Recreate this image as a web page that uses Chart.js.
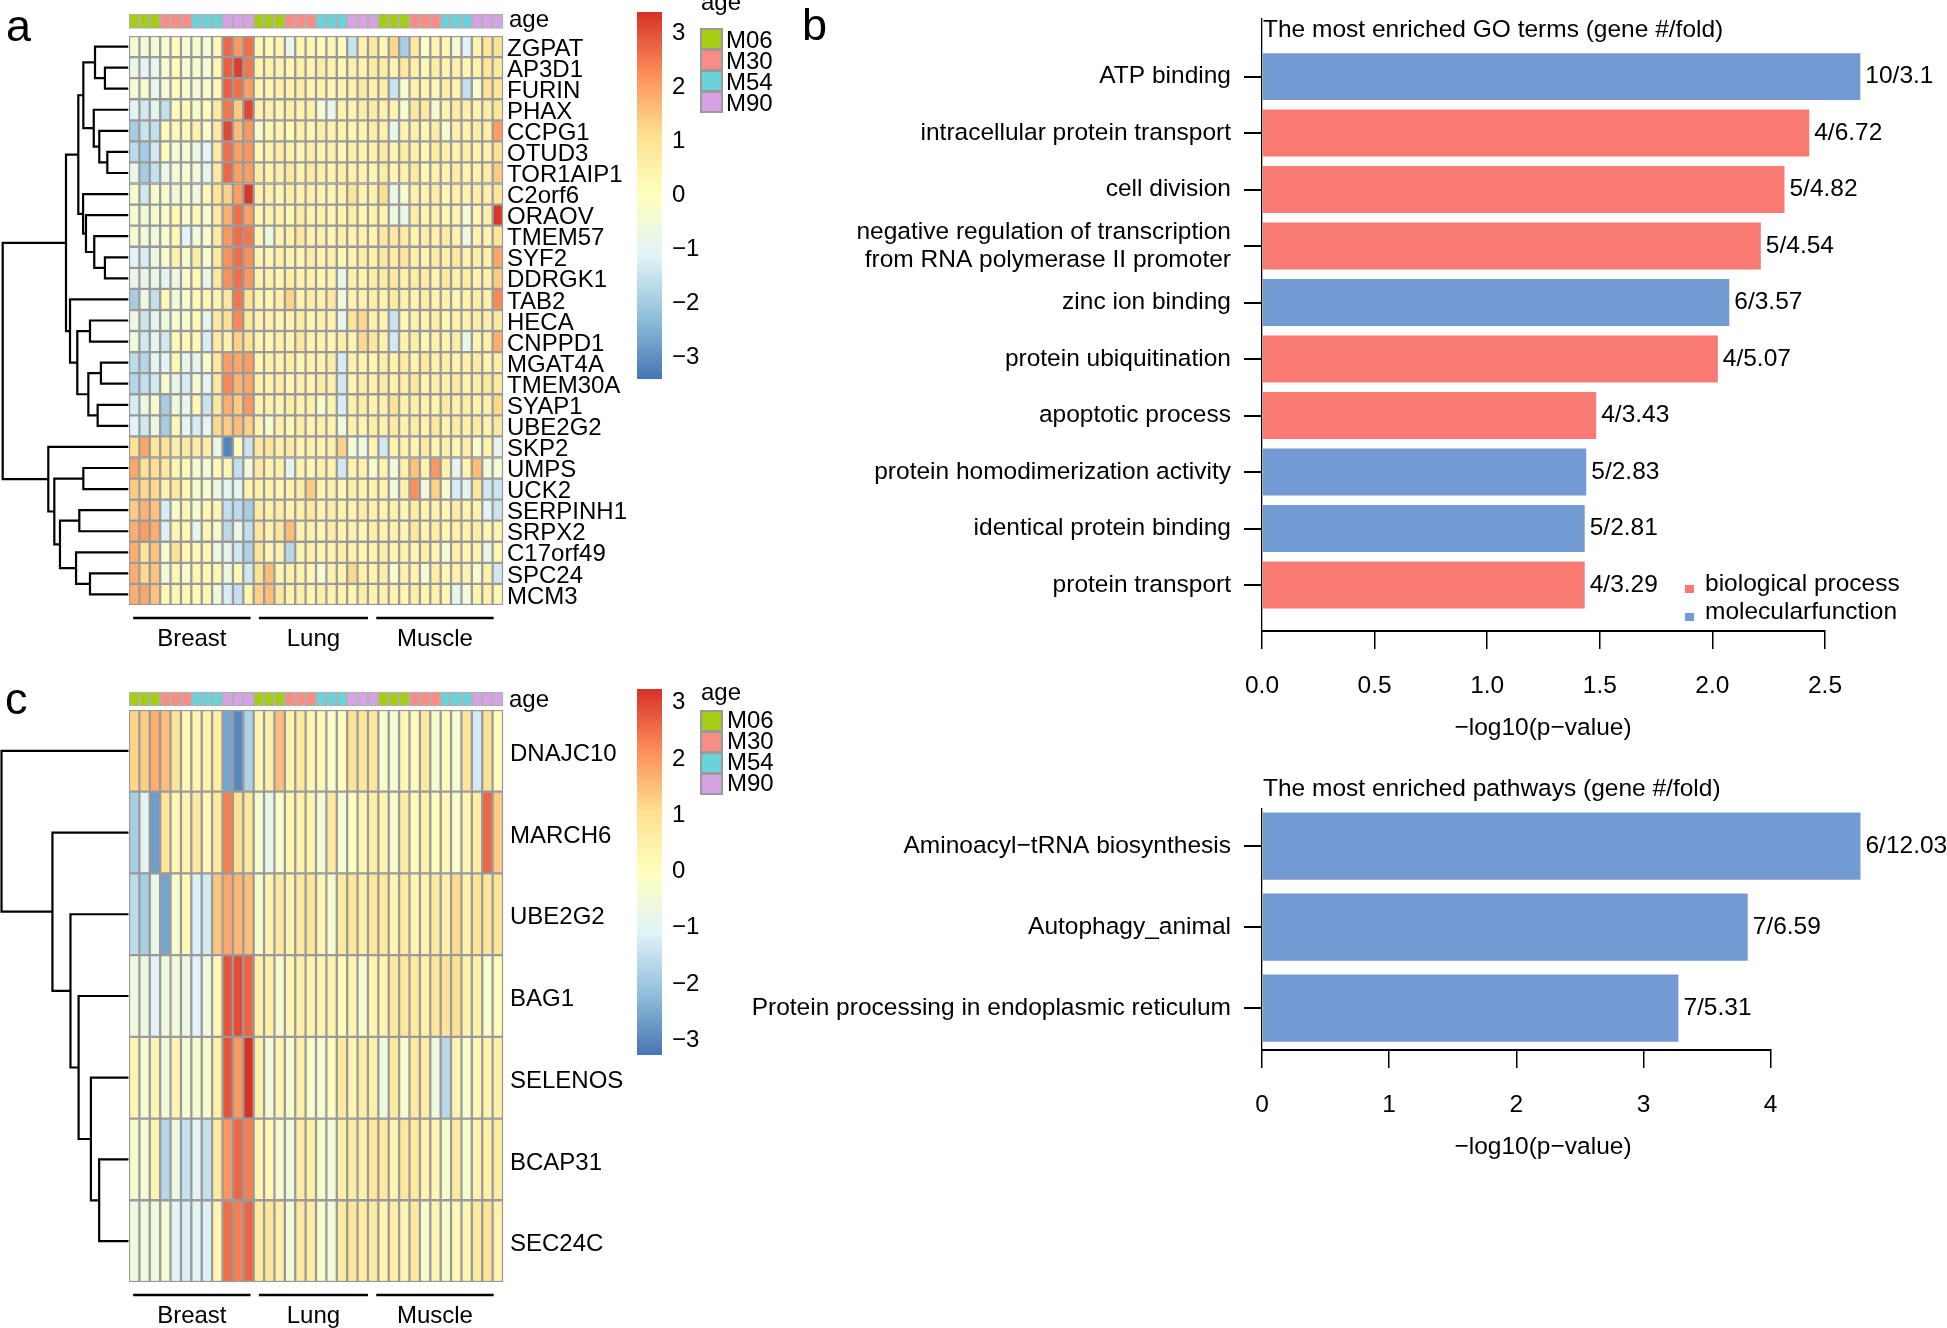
<!DOCTYPE html>
<html>
<head>
<meta charset="utf-8">
<title>Heatmaps and enrichment</title>
<script src="https://cdn.jsdelivr.net/npm/chart.js@4.4.1/dist/chart.umd.min.js"></script>
<style>
html,body{margin:0;padding:0;background:#fff;}
#page{position:relative;width:1947px;height:1328px;overflow:hidden;background:#fff;font-family:"Liberation Sans",Arial,Helvetica,sans-serif;color:#000;}
#page canvas{position:absolute;}
.txt{position:absolute;white-space:nowrap;line-height:1;}
.swatch{position:absolute;box-sizing:border-box;border:2px solid #9a9a9a;}
</style>
</head>
<body>
<div id="page"></div>
<script>
// ---------------- DATA ----------------
const tissues = ['Breast', 'Lung', 'Muscle'];
const ages = ['M06', 'M30', 'M54', 'M90'];
const replicatesPerAge = 3;
const ageColors = ['#A4CD14', '#F98D85', '#6CD2DA', '#D6A2E4'];

const genesA = ['ZGPAT','AP3D1','FURIN','PHAX','CCPG1','OTUD3','TOR1AIP1','C2orf6','ORAOV','TMEM57','SYF2','DDRGK1','TAB2','HECA','CNPPD1','MGAT4A','TMEM30A','SYAP1','UBE2G2','SKP2','UMPS','UCK2','SERPINH1','SRPX2','C17orf49','SPC24','MCM3'];
const heatA = [
 [-0.4,-0.5,-0.4,-0.4,0.1,-0.4,-0.3,-0.4,0.2,2.7,2.1,2.6, 0.3,0.2,0.3,-0.8,0.3,0.3,0.2,0.3,0.1,-1.5,0.5,0.8, 0.3,1.2,-2.0,0.8,-0.2,0.4,0.3,-0.4,-1.2,0.4,0.9,1.0],
 [-0.8,-1.1,-0.9,-0.4,0.1,-0.4,-0.3,-0.4,0.3,2.8,3.2,2.5, 0.4,0.5,0.4,0.3,0.5,0.4,0.6,0.4,0.3,0.5,0.4,0.7, 0.6,0.4,0.8,0.5,0.3,0.6,0.4,0.5,0.3,0.5,0.9,0.8],
 [-0.4,-0.3,-0.9,-0.5,0.1,-0.3,-0.4,-0.3,0.2,2.8,2.6,2.0, 0.4,0.3,0.5,0.4,0.6,0.4,0.5,0.3,0.4,0.5,0.7,0.4, 0.6,-1.5,-0.3,0.5,0.4,0.3,0.6,0.4,-1.6,-0.3,1.0,0.9],
 [-1.0,-1.4,-1.0,-1.6,0.1,0.2,-0.3,0.1,0.7,2.5,1.4,3.1, 0.4,0.5,0.3,0.6,0.4,0.5,-0.4,-0.8,0.5,0.4,0.6,0.7, 0.5,0.4,-0.3,0.8,0.8,-0.3,0.4,0.6,0.5,0.4,0.6,0.9],
 [-2.0,-1.5,-1.6,0.1,0.2,0.2,0.5,-0.3,0.7,3.1,1.6,2.1, -0.3,0.3,0.4,0.2,0.5,0.3,0.6,0.4,0.5,0.3,0.4,0.6, 0.5,-0.9,0.4,0.5,0.3,0.6,-0.3,0.5,0.4,0.6,0.5,2.0],
 [-1.7,-2.0,-1.4,0.1,-0.4,-0.5,-0.8,-1.1,0.7,2.6,2.0,2.1, 0.3,0.4,0.6,0.5,0.3,0.6,0.4,0.5,0.3,0.6,0.4,0.5, 0.7,0.4,0.6,0.5,0.3,0.7,0.5,0.4,0.6,0.5,0.4,1.0],
 [-0.8,-2.0,-1.6,-0.8,-0.4,-0.4,-0.5,-1.0,0.7,2.7,2.0,2.0, 0.6,0.4,0.5,0.8,0.4,0.7,0.5,0.4,0.6,0.5,0.4,0.3, 0.6,0.4,0.5,0.7,0.3,0.5,0.4,0.6,0.4,0.5,0.6,1.4],
 [-0.3,-1.4,-0.3,-0.3,-0.6,-0.3,-0.7,0.2,0.9,1.3,2.0,3.3, 0.4,0.5,0.3,0.6,0.4,0.5,0.4,0.3,0.5,0.9,0.4,0.5, 1.1,-0.8,-0.3,0.5,0.4,0.6,0.3,0.5,0.4,0.6,0.5,0.9],
 [-0.3,-0.6,-0.3,-0.3,0.2,-0.3,0.2,-0.3,0.7,1.8,2.6,2.0, 0.3,0.5,0.4,0.3,0.6,0.4,0.5,0.3,0.4,0.6,0.3,0.5, 0.4,-0.7,-0.8,0.6,0.4,0.5,0.3,0.4,-0.5,0.3,0.5,3.3],
 [-0.3,-0.6,-0.6,-0.3,0.2,-1.1,-0.6,-0.3,0.7,2.1,2.6,2.5, 0.3,-0.7,0.4,0.5,0.8,0.4,0.5,0.3,0.6,0.4,0.5,0.4, 0.8,0.8,0.7,0.4,0.6,0.5,0.7,0.4,-0.7,0.5,0.4,0.9],
 [-1.1,-1.3,-0.7,-0.3,0.4,-0.3,0.6,-0.3,0.8,2.2,2.6,2.2, 0.4,0.3,0.5,0.4,0.3,0.6,0.4,0.5,0.3,0.4,0.6,0.5, 0.8,0.6,0.9,0.5,0.4,0.7,0.5,0.8,0.4,0.6,0.5,1.9],
 [-0.8,-0.9,-0.8,-1.0,-0.7,-0.3,0.2,-0.9,0.8,2.2,2.6,2.1, 0.4,0.5,0.3,0.6,0.4,0.5,0.3,0.4,-0.9,0.5,0.4,0.6, 0.7,0.8,0.5,0.6,0.7,0.4,0.8,0.5,0.6,0.4,0.5,1.4],
 [-2.0,-0.7,-1.6,0.2,-0.6,-0.3,0.2,0.3,0.3,0.8,2.5,1.0, 0.4,0.3,0.5,1.3,0.4,0.6,0.5,0.8,-0.6,0.4,0.5,0.6, 0.4,0.7,0.5,0.3,0.6,0.4,0.5,0.3,0.4,0.6,0.5,2.3],
 [-0.7,-1.5,-1.0,-0.6,-0.3,-0.3,0.2,-1.0,0.7,1.1,2.3,0.8, 0.4,0.5,0.3,0.4,0.6,0.3,0.5,0.4,-0.9,0.9,1.2,0.5, 0.4,-1.5,0.3,0.5,0.4,0.6,0.3,0.5,0.4,0.6,0.5,0.8],
 [-0.6,-1.4,-1.0,-1.4,0.2,0.2,0.2,-1.3,0.7,0.4,1.3,1.0, 0.4,0.3,0.5,0.4,0.8,0.4,0.5,0.3,0.6,0.4,1.2,0.9, 0.5,-1.4,0.4,0.6,0.3,0.5,0.4,0.6,-0.9,0.4,0.5,1.8],
 [-1.7,-1.8,-1.0,-1.1,0.2,-0.9,-0.9,-0.3,0.8,2.0,1.9,2.0, 0.3,0.5,0.4,0.6,0.3,0.5,0.4,0.6,-1.3,0.5,0.4,0.3, 0.6,0.5,0.7,0.4,0.8,0.5,0.6,0.4,0.5,0.7,0.4,0.6],
 [-1.8,-1.6,-1.4,-0.3,-0.9,-1.3,-0.3,-1.0,0.8,2.3,1.7,1.9, 0.5,0.4,0.6,0.3,0.5,0.4,0.6,0.5,-1.4,0.4,0.6,0.5, 0.7,0.5,0.6,0.8,0.4,0.6,0.5,0.7,0.4,0.6,0.8,0.7],
 [-1.3,-0.7,-0.3,-2.0,-0.7,-0.9,0.2,-1.5,0.8,1.8,1.4,2.1, 0.4,0.5,0.3,0.6,0.4,0.5,-0.3,0.4,-1.3,0.5,0.6,0.4, 0.5,1.0,0.4,0.6,0.5,0.4,0.7,0.5,0.6,0.4,0.5,1.2],
 [-1.1,-1.4,-0.7,-2.0,0.2,-1.0,-1.3,-1.0,1.2,1.4,1.6,1.3, 0.4,-0.3,0.5,0.3,0.6,0.4,0.5,0.4,-0.6,0.5,0.3,0.6, 0.5,0.7,0.4,0.6,0.5,0.8,0.4,0.6,0.5,0.7,0.4,0.8],
 [1.0,1.9,0.9,1.0,0.5,0.7,0.7,0.6,-0.8,-3.2,0.1,-1.5, 0.8,0.9,0.5,0.7,0.3,0.5,0.4,0.5,1.3,-0.4,-0.7,0.4, -1.4,0.4,0.5,0.3,0.7,0.4,0.5,0.3,0.6,-0.3,0.5,-0.9],
 [1.9,1.0,1.1,0.8,0.3,0.2,-0.3,-0.5,0.2,0.2,-1.6,-0.6, 0.7,0.4,0.5,-1.0,0.4,0.3,0.5,0.4,-1.4,0.4,0.5,-0.3, 0.4,-0.6,0.5,1.5,0.4,2.1,0.5,-0.9,0.4,1.6,-0.6,-0.4],
 [1.4,1.2,1.2,0.5,0.8,0.3,-0.3,-0.3,-0.7,-1.0,-0.9,0.4, 0.5,0.4,0.3,0.5,0.6,1.4,0.4,0.5,0.3,0.6,0.4,0.5, 0.4,-0.6,0.5,2.2,-0.5,1.3,-0.3,-1.3,-1.0,0.9,-1.4,-1.5],
 [1.4,1.7,1.5,-1.3,-0.3,0.3,-0.3,0.3,0.3,-1.6,-1.7,-2.0, 0.7,0.5,0.6,0.4,0.5,0.8,0.4,0.6,0.5,0.4,0.6,0.5, 0.4,0.5,0.3,0.6,0.4,0.5,0.3,0.6,0.4,0.5,-1.1,-1.5],
 [1.8,2.0,1.8,-1.2,0.3,0.3,-0.9,0.3,-0.3,-1.7,-0.8,-1.6, 0.8,0.4,0.8,1.6,0.4,0.5,0.3,0.6,0.4,0.5,0.3,0.6, 0.4,0.5,0.3,0.8,0.4,0.6,0.3,0.5,0.4,0.6,0.3,0.4],
 [1.8,0.9,1.5,-0.3,1.0,0.3,0.3,0.3,-0.8,-0.9,-1.4,-1.9, 0.9,0.3,0.4,-1.8,0.4,0.5,0.3,0.4,0.6,0.5,0.3,0.4, 0.6,0.4,0.5,0.3,0.6,0.4,-0.4,0.5,0.3,0.4,-0.8,0.3],
 [1.8,1.2,1.5,-0.6,0.3,-0.3,0.3,0.3,0.3,-0.7,0.2,-1.4, 1.0,1.6,0.3,0.5,0.4,0.3,-0.4,0.5,0.4,1.2,0.5,0.4, 0.6,-0.3,0.5,0.4,-0.4,0.6,0.3,0.5,0.4,-0.3,0.5,-1.4],
 [1.8,1.9,1.5,0.3,0.3,0.3,0.2,0.3,-0.6,-1.3,-1.6,0.3, 1.3,1.6,0.8,0.4,0.5,0.3,0.6,0.4,0.5,0.3,0.6,0.4, 0.5,0.4,0.3,0.6,0.4,0.5,0.3,-0.9,-0.5,0.4,0.5,0.3]
];

const genesC = ['DNAJC10','MARCH6','UBE2G2','BAG1','SELENOS','BCAP31','SEC24C'];
const heatC = [
 [1.2,1.3,1.7,1.5,0.9,0.2,0.3,0.4,0.6,-2.6,-3.0,-1.8, 0.3,0.5,1.5,0.4,0.7,0.3,0.2,-0.2,0.0,0.9,0.8,0.8, -0.3,-0.4,0.2,0.1,0.7,-0.3,0.1,-0.4,0.8,-1.3,1.0,0.0],
 [-1.9,-1.0,-2.7,0.9,0.2,0.3,0.7,0.2,0.7,2.3,1.0,0.8, -0.3,-0.8,-0.2,0.3,0.4,0.3,-0.4,0.7,-0.4,-0.1,0.3,0.6, 0.3,-0.3,0.6,0.1,0.4,0.0,0.2,-0.2,0.3,0.6,2.6,1.3],
 [-1.6,-1.9,-0.8,-2.6,-0.3,0.2,-1.2,-1.3,1.4,1.8,1.6,1.5, -0.3,0.3,0.7,0.4,0.7,0.8,0.3,-0.3,0.7,0.8,0.5,0.8, 0.7,0.3,0.7,0.3,0.4,0.7,0.5,1.1,0.4,0.9,0.8,0.9],
 [-0.6,-0.7,-1.1,-0.6,-0.5,-0.7,-1.1,-0.6,0.2,2.8,2.9,2.6, 0.5,0.5,-0.3,0.3,0.5,0.4,0.3,0.4,0.1,0.3,-0.3,0.4, 0.3,0.7,0.8,0.7,0.5,0.8,0.9,1.0,0.4,0.5,-0.3,0.1],
 [0.3,-0.4,0.3,-0.6,0.3,-0.4,-0.3,-0.3,0.5,2.8,2.0,3.2, 0.5,-0.4,0.3,-0.3,0.5,-0.3,-0.3,0.0,0.7,0.3,0.6,0.5, -0.6,0.7,-0.3,0.7,0.6,-0.6,-1.7,0.3,-0.3,0.2,0.4,0.5],
 [-0.3,-0.4,0.3,-1.7,-0.7,-1.5,-1.0,-1.5,0.7,2.0,2.6,2.3, 0.3,0.2,-0.3,-0.6,0.6,0.5,-0.3,-0.5,0.5,0.6,0.5,0.8, 0.7,0.3,0.8,0.7,0.4,0.3,-0.3,0.7,-0.3,0.4,0.5,0.6],
 [-0.6,-0.6,-0.6,-0.4,-1.0,-1.2,-1.0,-1.2,0.3,2.5,2.3,2.6, 0.7,0.8,0.5,-0.5,0.7,0.6,-0.3,-0.5,0.7,0.8,0.6,0.7, 0.3,0.6,0.3,0.7,-0.3,0.3,-0.3,0.2,0.3,0.7,0.9,0.4]
];

const rangeA = [-3.43, 3.37];
const rangeC = [-3.29, 3.22];
const colorbarTicks = [-3, -2, -1, 0, 1, 2, 3];

// dendrograms: [left, right, mergeHeight]; leaves are row indices
const dendroA = [
  [
    [
      [[0, [1, 2, 0.186], 0.265], [3, [4, [5, 6, 0.167], 0.231], 0.275], 0.358],
      [7, [8, [9, [10, 11, 0.186], 0.271], 0.337], 0.36],
      0.398
    ],
    [12, [[13, 14, 0.305], [[15, 16, 0.218], [17, 18, 0.244], 0.318], 0.406], 0.464],
    0.496
  ],
  [19, [[20, 21, 0.358], [[22, 23, 0.39], [24, [25, 26, 0.305], 0.416], 0.544], 0.589], 0.637],
  1.0
];
const dendroC = [0, [1, [2, [3, [4, [5, 6, 0.231], 0.296], 0.393], 0.457], 0.599], 1.0];

const goTerms = ['ATP binding', 'intracellular protein transport', 'cell division',
  ['negative regulation of transcription', 'from RNA polymerase II promoter'],
  'zinc ion binding', 'protein ubiquitination', 'apoptotic process',
  'protein homodimerization activity', 'identical protein binding', 'protein transport'];
const goValues = [2.657, 2.43, 2.32, 2.215, 2.075, 2.024, 1.484, 1.44, 1.433, 1.433];
const goCategory = ['MF', 'BP', 'BP', 'BP', 'MF', 'BP', 'BP', 'MF', 'MF', 'BP'];
const goGeneFold = ['10/3.1', '4/6.72', '5/4.82', '5/4.54', '6/3.57', '4/5.07', '4/3.43', '5/2.83', '5/2.81', '4/3.29'];
const goTicks = [0, 0.5, 1, 1.5, 2, 2.5];

const pathTerms = ['Aminoacyl\u2212tRNA biosynthesis', 'Autophagy_animal', 'Protein processing in endoplasmic reticulum'];
const pathValues = [4.707, 3.82, 3.275];
const pathGeneFold = ['6/12.03', '7/6.59', '7/5.31'];
const pathCategory = ['MF', 'MF', 'MF'];
const pathTicks = [0, 1, 2, 3, 4];

const categoryNames = { BP: 'biological process', MF: 'molecularfunction' };
const categoryColors = { BP: '#F87A72', MF: '#739BD3' };

// ---------------- SETUP ----------------
const FONT = '"Liberation Sans", Arial, Helvetica, sans-serif';
const BFONT = 24.5; // panel b text size
Chart.defaults.font.family = FONT;
Chart.defaults.font.size = 24;
Chart.defaults.color = '#000';
Chart.defaults.animation = false;
Chart.defaults.responsive = false;
Chart.defaults.maintainAspectRatio = false;
Chart.defaults.devicePixelRatio = 1;
Chart.defaults.plugins.legend.display = false;
Chart.defaults.plugins.tooltip.enabled = false;

const page = document.getElementById('page');
const columns = [];
tissues.forEach(t => ages.forEach(a => {
  for (let k = 1; k <= replicatesPerAge; k++) columns.push({ tissue: t, age: a, label: t + ' ' + a + ' #' + k });
}));

function makeCanvas(left, top, w, h) {
  const c = document.createElement('canvas');
  c.width = w; c.height = h;
  c.style.left = left + 'px'; c.style.top = top + 'px';
  c.style.width = w + 'px'; c.style.height = h + 'px';
  page.appendChild(c);
  return c;
}
function addText(str, x, baseline, size, align) {
  const d = document.createElement('div');
  d.className = 'txt';
  d.textContent = str;
  d.style.fontSize = size + 'px';
  d.style.top = (baseline - 0.8465 * size) + 'px';
  d.style.left = x + 'px';
  if (align === 'center') d.style.transform = 'translateX(-50%)';
  if (align === 'right') d.style.transform = 'translateX(-100%)';
  page.appendChild(d);
  return d;
}
function addBox(x, y, w, h, color, border) {
  const d = document.createElement('div');
  d.className = 'swatch';
  Object.assign(d.style, { left: x + 'px', top: y + 'px', width: w + 'px', height: h + 'px', background: color });
  if (border === false) d.style.border = 'none';
  page.appendChild(d);
}

const rampColors = ['#4575B4', '#91BFDB', '#E0F3F8', '#FFFFBF', '#FEE090', '#FC8D59', '#D73027'];
const rampRGB = rampColors.map(h => [1, 3, 5].map(i => parseInt(h.substr(i, 2), 16)));
function valueColor(v, range) {
  const t = Math.min(1, Math.max(0, (v - range[0]) / (range[1] - range[0]))) * (rampRGB.length - 1);
  const i = Math.min(Math.floor(t), rampRGB.length - 2);
  const f = t - i;
  const c = rampRGB[i].map((a, k) => Math.round(a + (rampRGB[i + 1][k] - a) * f));
  return 'rgb(' + c.join(',') + ')';
}

// ---------------- PLUGINS ----------------
const tissueGroupPlugin = {
  id: 'tissueGroups',
  afterDraw(chart, args, opts) {
    const { ctx, chartArea, scales: { x } } = chart;
    const colW = x.getPixelForValue(1) - x.getPixelForValue(0);
    const left = x.getPixelForValue(0) - colW / 2;
    ctx.save();
    ctx.strokeStyle = '#000'; ctx.lineWidth = 2.5; ctx.fillStyle = '#000';
    ctx.font = '24px ' + FONT; ctx.textAlign = 'center'; ctx.textBaseline = 'middle';
    tissues.forEach((t, g) => {
      const [s, e] = opts.spans[g];
      const x0 = left + s * colW, x1 = left + e * colW;
      const yl = chartArea.bottom + opts.lineOffset;
      ctx.beginPath(); ctx.moveTo(x0, yl); ctx.lineTo(x1, yl); ctx.stroke();
      ctx.fillText(t, (x0 + x1) / 2, chartArea.bottom + opts.textOffset);
    });
    ctx.restore();
  }
};
const valueLabelPlugin = {
  id: 'valueLabels',
  afterDatasetsDraw(chart, args, opts) {
    const { ctx } = chart;
    const meta = chart.getDatasetMeta(0);
    ctx.save();
    ctx.font = BFONT + 'px ' + FONT; ctx.fillStyle = '#000';
    ctx.textAlign = 'left'; ctx.textBaseline = 'middle';
    meta.data.forEach((bar, i) => ctx.fillText(opts.labels[i], bar.x + 5, bar.y));
    ctx.restore();
  }
};

// ---------------- BUILDERS ----------------
function buildHeatmap(canvas, cfg) {
  const datasets = [{
    data: columns.map(() => cfg.annotBand),
    backgroundColor: columns.map(c => ageColors[ages.indexOf(c.age)]),
    borderColor: '#B0B0B0', borderWidth: 1.3, borderSkipped: false,
    grouped: false, barPercentage: 1, categoryPercentage: 1, clip: false
  }];
  cfg.rows.forEach((row, r) => datasets.push({
    data: row.map(() => [r, r + 1]),
    backgroundColor: row.map(v => valueColor(v, cfg.range)),
    borderColor: '#9A9A9A', borderWidth: 1.5, borderSkipped: false,
    grouped: false, barPercentage: 1, categoryPercentage: 1, clip: false
  }));
  new Chart(canvas, {
    type: 'bar',
    data: { labels: columns.map(c => c.label), datasets },
    options: {
      layout: { padding: { top: cfg.padTop, bottom: cfg.padBottom, left: 0, right: 0 } },
      plugins: { tissueGroups: { spans: cfg.groupSpans, lineOffset: 13, textOffset: 34.5 } },
      scales: {
        x: { type: 'category', display: false },
        y: {
          type: 'linear', position: 'right', min: cfg.yMin, max: cfg.rows.length, reverse: true, offset: false,
          afterBuildTicks: ax => { ax.ticks = cfg.genes.map((_, i) => ({ value: i + 0.5 })); },
          afterFit: ax => { ax.width = cfg.labelWidth; },
          ticks: { autoSkip: false, padding: 0, labelOffset: cfg.labelShift, callback: (v, i) => cfg.genes[i], font: { size: 24, lineHeight: 1 } },
          grid: { display: true, offset: false, drawOnChartArea: false, drawTicks: true, tickLength: cfg.labelGap, color: 'rgba(0,0,0,0)' },
          border: { display: false }
        }
      }
    },
    plugins: [tissueGroupPlugin]
  });
}

function buildDendrogram(canvas, tree, cfg) {
  const segs = [];
  (function walk(node) {
    if (typeof node === 'number') return { y: node + 0.5, h: 0 };
    const L = walk(node[0]), R = walk(node[1]), h = node[2];
    segs.push([{ x: -L.h, y: L.y }, { x: -h, y: L.y }, { x: -h, y: R.y }, { x: -R.h, y: R.y }]);
    return { y: (L.y + R.y) / 2, h };
  })(tree);
  new Chart(canvas, {
    type: 'scatter',
    data: { datasets: segs.map(s => ({ data: s, showLine: true, borderColor: '#000', borderWidth: 2.2, pointRadius: 0, tension: 0, clip: false })) },
    options: {
      layout: { padding: { top: cfg.padTop, bottom: cfg.padBottom, left: 0, right: 0 } },
      scales: {
        x: { type: 'linear', display: false, min: cfg.xMin, max: cfg.xMax },
        y: { type: 'linear', display: false, min: cfg.yMin, max: cfg.yMax, reverse: true }
      }
    }
  });
}

function buildColorbar(canvas, range, padTop, padBottom) {
  new Chart(canvas, {
    type: 'bar',
    data: {
      labels: ['scale'],
      datasets: [{
        data: [range],
        backgroundColor: (c) => {
          const ch = c.chart, a = ch.chartArea;
          if (!a) return rampColors[3];
          const g = ch.ctx.createLinearGradient(0, a.bottom, 0, a.top);
          rampColors.forEach((col, i) => g.addColorStop(i / (rampColors.length - 1), col));
          return g;
        },
        borderWidth: 0, barPercentage: 1, categoryPercentage: 1
      }]
    },
    options: {
      layout: { padding: { top: padTop, bottom: padBottom, left: 0, right: 0 } },
      scales: {
        x: { display: false },
        y: {
          position: 'right', min: range[0], max: range[1],
          afterBuildTicks: ax => { ax.ticks = colorbarTicks.map(v => ({ value: v })); },
          afterFit: ax => { ax.width = 85; },
          ticks: { padding: 0, labelOffset: 1.5, callback: v => (v < 0 ? '\u2212' + Math.abs(v) : String(v)), font: { size: 24, lineHeight: 1 } },
          grid: { display: true, drawOnChartArea: false, drawTicks: true, tickLength: 10, color: 'rgba(0,0,0,0)' },
          border: { display: false }
        }
      }
    }
  });
}

function buildBars(canvas, cfg) {
  new Chart(canvas, {
    type: 'bar',
    data: {
      datasets: [{
        data: cfg.values.map((v, i) => ({ x: v, y: i })),
        backgroundColor: cfg.categories.map(c => categoryColors[c]),
        borderWidth: 0, barPercentage: 0.83, categoryPercentage: 1, clip: false
      }]
    },
    options: {
      indexAxis: 'y',
      layout: { padding: { top: cfg.padTop, right: cfg.padRight, left: 0, bottom: 0 } },
      plugins: { valueLabels: { labels: cfg.labels } },
      scales: {
        y: {
          type: 'linear', min: cfg.yMin, max: cfg.yMax, reverse: true, offset: false,
          afterBuildTicks: ax => { ax.ticks = cfg.terms.map((_, i) => ({ value: i })); },
          afterFit: ax => { ax.width = cfg.yWidth; },
          ticks: { autoSkip: false, padding: 13, callback: (v, i) => cfg.terms[i], font: { size: BFONT, lineHeight: 1.15 } },
          grid: { display: true, offset: false, drawOnChartArea: false, drawTicks: true, tickLength: 18, color: '#000', lineWidth: 2 },
          border: { display: true, color: '#000', width: 1.3 }
        },
        x: {
          type: 'linear', min: 0, max: cfg.ticks[cfg.ticks.length - 1], offset: false,
          afterBuildTicks: ax => { ax.ticks = cfg.ticks.map(v => ({ value: v })); },
          afterFit: ax => { ax.height = cfg.xHeight; },
          ticks: { autoSkip: false, padding: 23, maxRotation: 0, callback: cfg.tickFormat, font: { size: BFONT } },
          grid: { display: true, offset: false, drawOnChartArea: false, drawTicks: true, tickLength: 18, color: '#000', lineWidth: 1.5 },
          border: { display: true, color: '#000', width: 2 }
        }
      }
    },
    plugins: [valueLabelPlugin]
  });
}

// ---------------- PANEL a ----------------
const groupSpans = [[0.4, 11.7], [12.5, 23.0], [23.8, 35.1]];
buildDendrogram(makeCanvas(0, 0, 129, 660), dendroA, { padTop: 14, padBottom: 55, xMin: -1.0215, xMax: 0.0056, yMin: -1.044, yMax: 27 });
buildHeatmap(makeCanvas(129, 0, 504, 660), { rows: heatA, genes: genesA, range: rangeA, yMin: -1.044, annotBand: [-1.044, -0.356], padTop: 14, padBottom: 55, labelWidth: 130, labelGap: 4, labelShift: 2.5, groupSpans });
buildColorbar(makeCanvas(637, 0, 110, 392), rangeA, 12, 13);
addText('a', 6, 41, 45);
addText('age', 509, 27, 24);
addText('age', 701, 10, 24);
ages.forEach((a, i) => { addBox(700, 28 + i * 21, 23, 22, ageColors[i]); addText(a, 726, 48.5 + i * 21, 24); });

// ---------------- PANEL c ----------------
buildDendrogram(makeCanvas(0, 678, 129, 650), dendroC, { padTop: 14, padBottom: 46, xMin: -1.012, xMax: 0.004, yMin: -0.22, yMax: 7 });
buildHeatmap(makeCanvas(129, 678, 504, 650), { rows: heatC, genes: genesC, range: rangeC, yMin: -0.22, annotBand: [-0.22, -0.049], padTop: 14, padBottom: 46, labelWidth: 130, labelGap: 7, labelShift: 3.5, groupSpans });
buildColorbar(makeCanvas(637, 677, 110, 392), rangeC, 12, 14);
addText('c', 5, 714, 45);
addText('age', 509, 707, 24);
addText('age', 701, 700, 24);
ages.forEach((a, i) => { addBox(700, 710 + i * 21, 23, 22, ageColors[i]); addText(a, 727, 728 + i * 21, 24); });

// ---------------- PANEL b ----------------
addText('b', 802, 40, 45);
buildBars(makeCanvas(700, -20, 1247, 780), {
  terms: goTerms, values: goValues, categories: goCategory, labels: goGeneFold, ticks: goTicks,
  tickFormat: v => v.toFixed(1), yMin: -1.019, yMax: 9.813, yWidth: 562, xHeight: 129, padTop: 39, padRight: 122
});
addText('The most enriched GO terms (gene #/fold)', 1263, 38, BFONT);
addText('\u2212log10(p\u2212value)', 1543, 735.5, BFONT, 'center');
['BP', 'MF'].forEach((k, i) => {
  addBox(1685, 585 + i * 28, 9, 8, categoryColors[k], false);
  addText(categoryNames[k], 1705, 592 + i * 28, BFONT);
});

buildBars(makeCanvas(700, 760, 1247, 420), {
  terms: pathTerms, values: pathValues, categories: pathCategory, labels: pathGeneFold, ticks: pathTicks,
  tickFormat: v => String(v), yMin: -0.457, yMax: 2.518, yWidth: 562, xHeight: 130, padTop: 49, padRight: 176.4
});
addText('The most enriched pathways (gene #/fold)', 1263, 797, BFONT);
addText('\u2212log10(p\u2212value)', 1543, 1154.5, BFONT, 'center');
</script>
</body>
</html>
